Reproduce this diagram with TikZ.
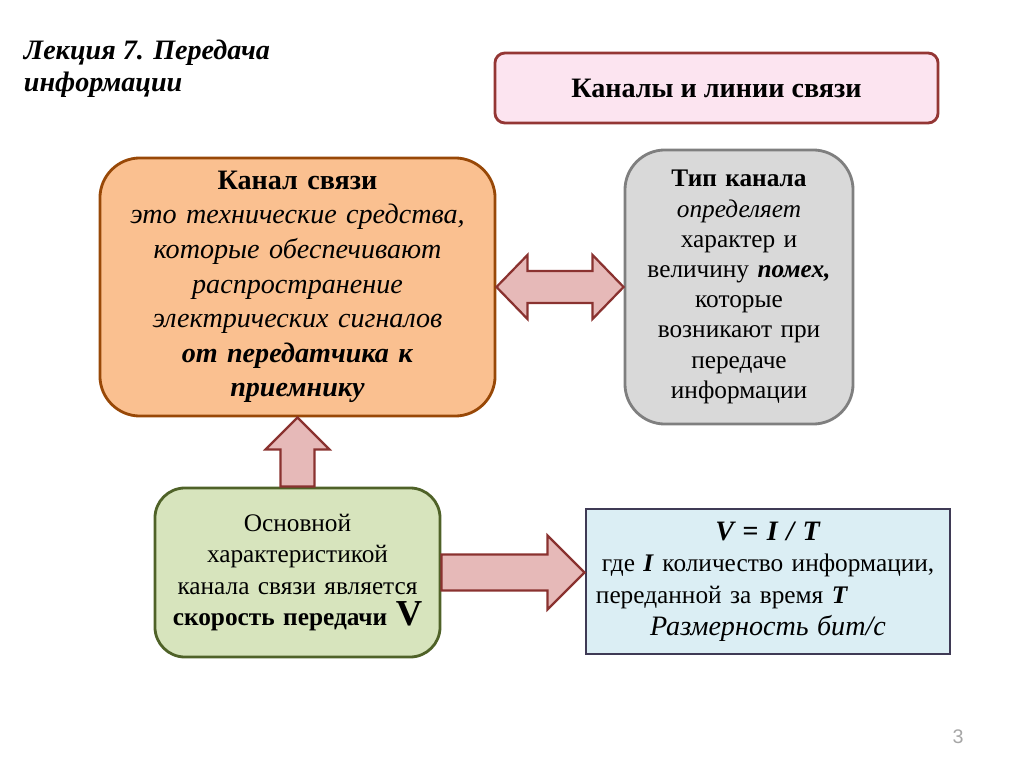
\documentclass[tikz,border=0pt]{standalone}
\usepackage{fontspec}
\setmainfont{Liberation Serif}
\setsansfont{Liberation Sans}
\usepackage{tikz}
\usetikzlibrary{calc}
\definecolor{topink}{HTML}{943634}
\definecolor{topfill}{HTML}{FCE4F0}
\definecolor{chanink}{HTML}{984807}
\definecolor{chanfill}{HTML}{FAC090}
\definecolor{typeink}{HTML}{7F7F7F}
\definecolor{typefill}{HTML}{D9D9D9}
\definecolor{speedink}{HTML}{4F6228}
\definecolor{speedfill}{HTML}{D7E4BD}
\definecolor{formink}{HTML}{3F3A55}
\definecolor{formfill}{HTML}{DBEEF4}
\definecolor{arrowink}{HTML}{8A3230}
\definecolor{arrowfill}{HTML}{E6B9B8}
\definecolor{pagegrey}{HTML}{A6A6A6}

\begin{document}
\begin{tikzpicture}[x=0.025cm,y=-0.025cm,
    box/.style={line width=2pt,align=center,inner sep=0pt},
    blockarr/.style={draw=arrowink,fill=arrowfill,line width=1.6pt,line join=miter}]
  \useasboundingbox (0,0) rectangle (1024,768);
  \node[anchor=north west,align=left,font=\fontsize{20}{22.5}\selectfont\bfseries\itshape] (lecture) at (19,35) {Лекция 7. Передача\\информации};
  \node[box,draw=topink,fill=topfill,rounded corners=0.25cm,minimum width=11.075cm,minimum height=1.75cm,font=\fontsize{20}{24}\selectfont\bfseries] (lines) at (716.5,88) {Каналы и линии связи};
  \node[box,draw=chanink,fill=chanfill,rounded corners=1cm,minimum width=9.875cm,minimum height=6.45cm,text width=9.3cm,font=\fontsize{20}{24.6}\selectfont] (chan) at (297.5,287) {\textbf{Канал связи}\\
    \textit{это технические средства,}\\
    \textit{которые обеспечивают}\\
    \textit{распространение}\\
    \textit{электрических сигналов}\\
    \textbf{\textit{от передатчика к}}\\
    \textbf{\textit{приемнику}}};
  \node[box,draw=typeink,fill=typefill,rounded corners=1cm,minimum width=5.7cm,minimum height=6.85cm,text width=5.4cm,font=\fontsize{18}{21.5}\selectfont] (type) at (739,287) {\textbf{Тип канала}\\
    \textit{определяет}\\
    характер и\\
    величину \textbf{\textit{помех,}}\\
    которые\\
    возникают при\\
    передаче\\
    информации};
  \node[box,draw=speedink,fill=speedfill,rounded corners=0.75cm,minimum width=7.125cm,minimum height=4.225cm,text width=6.9cm,font=\fontsize{18}{22.3}\selectfont] (speed) at (297.5,572.5) {Основной\\
    характеристикой\\
    канала связи является\\
    \textbf{скорость передачи {\fontsize{26}{22}\selectfont V}}};
  \node[box,draw=formink,fill=formfill,minimum width=9.1cm,minimum height=3.625cm,text width=8.6cm,font=\fontsize{18}{22.5}\selectfont] (form) at (768,581.5) {{\fontsize{20}{24}\selectfont\textbf{\textit{V = I / T}}}\\
    где \textbf{\textit{I}} количество информации,\\
    \makebox[8.6cm][l]{переданной за время \textbf{\textit{T}}}\\
    {\fontsize{20}{24}\selectfont\textit{Размерность бит/с}}};
  \node[font=\fontsize{14}{16}\selectfont\sffamily,text=pagegrey] (page) at (958,737) {3};
  % block arrows between the boxes
  \draw[blockarr] (chan.east) -- ++(31,-32) -- ++(0,16) -- ($(type.west)+(-31,-16)$) -- ++(0,-16) -- (type.west) -- ++(-31,32) -- ++(0,-16) -- ($(chan.east)+(31,16)$) -- ++(0,16) -- cycle;
  \draw[blockarr] (chan.south) -- ++(32,32) -- ++(-15,0) -- ($(speed.north)+(17,0)$) -- ++(-34,0) -- ($(chan.south)+(-17,32)$) -- ++(-15,0) -- cycle;
  \draw[blockarr] ($(speed.east)+(0,-18)$) -- ($(speed.east -| form.west)+(-37,-18)$) -- ++(0,-19) -- (speed.east -| form.west) -- ++(-37,37) -- ++(0,-19) -- ($(speed.east)+(0,18)$) -- cycle;
\end{tikzpicture}
\end{document}
